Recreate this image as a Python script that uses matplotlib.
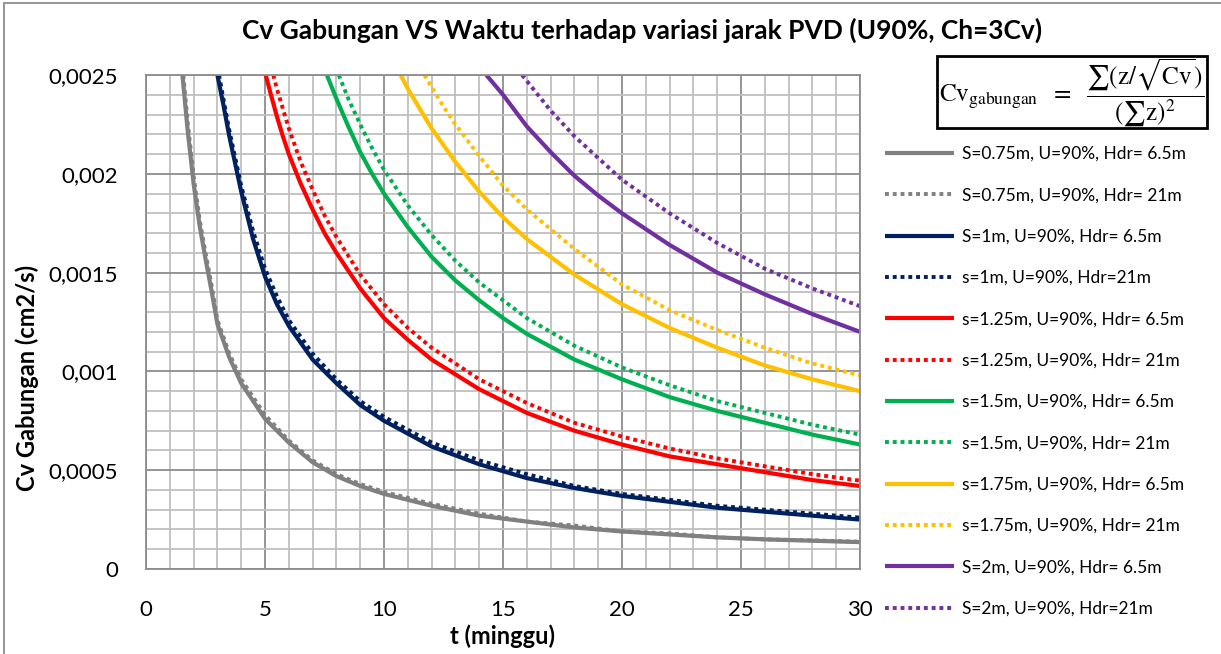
import matplotlib
matplotlib.use("Agg")
import matplotlib.pyplot as plt
from matplotlib.ticker import MultipleLocator, FuncFormatter
from matplotlib.patches import Rectangle

plt.rcParams['font.family'] = ['Lato', 'DejaVu Sans']
plt.rcParams['mathtext.fontset'] = 'stix'

# --- data (t in minggu, Cv in cm2/s) ---
t_075_65 = [1.53, 1.75, 2, 2.25, 2.5, 2.75, 3, 3.5, 4, 4.5, 5, 6, 7, 8, 9, 10, 12, 14, 16, 18, 20, 22, 24, 26, 28, 30]
cv_075_65 = [0.0025, 0.00222, 0.00195, 0.00174, 0.00157, 0.00141, 0.00124, 0.00107, 0.00094, 0.00085, 0.00076, 0.00064,
             0.00054, 0.00047, 0.00042, 0.00038, 0.00032, 0.00027, 0.00024, 0.00021, 0.00019, 0.000175, 0.00016,
             0.00015, 0.000143, 0.000136]
t_075_21 = [1.57, 1.75, 2, 2.25, 2.5, 2.75, 3, 3.5, 4, 4.5, 5, 6, 7, 8, 9, 10, 12, 14, 16, 18, 20, 22, 24, 26, 28, 30]
cv_075_21 = [0.0025, 0.00226, 0.00199, 0.00177, 0.0016, 0.00144, 0.00126, 0.00109, 0.00096, 0.00087, 0.00078, 0.00065,
             0.00055, 0.00048, 0.00043, 0.00039, 0.00033, 0.00028, 0.00024, 0.00022, 0.00019, 0.00018, 0.00016,
             0.00015, 0.000145, 0.000138]

t_1_65 = [3.0, 3.25, 3.5, 3.75, 4, 4.5, 5, 5.5, 6, 7, 8, 9, 10, 12, 14, 16, 18, 20, 22, 24, 26, 28, 30]
cv_1_65 = [0.0025, 0.00235, 0.00219, 0.00205, 0.00191, 0.00167, 0.00148, 0.00134, 0.00123, 0.00106, 0.00094, 0.00083,
           0.00075, 0.00062, 0.00053, 0.00046, 0.00041, 0.00037, 0.00034, 0.00031, 0.00029, 0.00027, 0.00025]
t_1_21 = [3.07, 3.25, 3.5, 3.75, 4, 4.5, 5, 5.5, 6, 7, 8, 9, 10, 12, 14, 16, 18, 20, 22, 24, 26, 28, 30]
cv_1_21 = [0.0025, 0.00238, 0.00222, 0.00208, 0.00194, 0.00171, 0.00152, 0.00138, 0.00126, 0.00109, 0.00096, 0.00085,
           0.00077, 0.00064, 0.00055, 0.00048, 0.00042, 0.00038, 0.00035, 0.00032, 0.0003, 0.00028, 0.00026]

t_125_65 = [5.03, 5.25, 5.5, 5.75, 6, 6.5, 7, 7.5, 8, 9, 10, 11, 12, 14, 16, 18, 20, 22, 24, 26, 28, 30]
cv_125_65 = [0.0025, 0.0024, 0.00229, 0.00219, 0.0021, 0.00195, 0.00182, 0.0017, 0.0016, 0.00142, 0.00127, 0.00116,
             0.00106, 0.00091, 0.00079, 0.0007, 0.00063, 0.00057, 0.00053, 0.00049, 0.00045, 0.00042]
t_125_21 = [5.35, 5.5, 5.75, 6, 6.5, 7, 7.5, 8, 9, 10, 11, 12, 14, 16, 18, 20, 22, 24, 26, 28, 30]
cv_125_21 = [0.0025, 0.00243, 0.00233, 0.00223, 0.00206, 0.00192, 0.00179, 0.00168, 0.00149, 0.00134, 0.00122,
             0.00112, 0.00096, 0.00084, 0.00074, 0.00067, 0.00061, 0.00056, 0.00052, 0.00048, 0.000447]

t_15_65 = [7.6, 8, 8.5, 9, 9.5, 10, 11, 12, 13, 14, 15, 16, 18, 20, 22, 24, 26, 28, 30]
cv_15_65 = [0.0025, 0.00238, 0.00224, 0.00211, 0.002, 0.0019, 0.00173, 0.00158, 0.00146, 0.00136, 0.00127, 0.00119,
            0.00106, 0.00096, 0.00087, 0.0008, 0.00074, 0.00068, 0.00063]
t_15_21 = [8.1, 8.5, 9, 9.5, 10, 11, 12, 13, 14, 15, 16, 18, 20, 22, 24, 26, 28, 30]
cv_15_21 = [0.0025, 0.00238, 0.00225, 0.00213, 0.00202, 0.00184, 0.00169, 0.00156, 0.00145, 0.00136, 0.00127,
            0.00113, 0.00102, 0.00093, 0.00085, 0.00079, 0.00073, 0.00068]

t_175_65 = [10.7, 11, 11.5, 12, 13, 14, 15, 16, 18, 20, 22, 24, 26, 28, 30]
cv_175_65 = [0.0025, 0.00243, 0.00233, 0.00223, 0.00206, 0.00191, 0.00178, 0.00167, 0.00149, 0.00134, 0.00122,
             0.00112, 0.00103, 0.00096, 0.0009]
t_175_21 = [11.7, 12, 12.5, 13, 14, 15, 16, 18, 20, 22, 24, 26, 28, 30]
cv_175_21 = [0.0025, 0.00244, 0.00234, 0.00225, 0.00209, 0.00194, 0.00182, 0.00162, 0.00144, 0.00131, 0.00121,
             0.00112, 0.00104, 0.00098]

t_2_65 = [14.3, 15, 16, 17, 18, 19, 20, 22, 24, 26, 28, 30]
cv_2_65 = [0.0025, 0.0024, 0.00224, 0.00211, 0.00199, 0.00189, 0.0018, 0.00164, 0.0015, 0.00139, 0.00129, 0.0012]
t_2_21 = [15.8, 16, 17, 18, 19, 20, 22, 24, 26, 28, 30]
cv_2_21 = [0.0025, 0.00247, 0.00232, 0.00219, 0.00208, 0.00197, 0.0018, 0.00165, 0.00152, 0.00142, 0.00133]

labels = ["S=0.75m, U=90%, Hdr= 6.5m", "S=0.75m, U=90%, Hdr= 21m",
          "S=1m, U=90%, Hdr= 6.5m", "s=1m, U=90%, Hdr=21m",
          "s=1.25m, U=90%, Hdr= 6.5m", "s=1.25m, U=90%, Hdr= 21m",
          "s=1.5m, U=90%, Hdr= 6.5m", "s=1.5m, U=90%, Hdr= 21m",
          "s=1.75m, U=90%, Hdr= 6.5m", "s=1.75m, U=90%, Hdr= 21m",
          "S=2m, U=90%, Hdr= 6.5m", "S=2m, U=90%, Hdr=21m"]
colors = ['#808080', '#002060', '#FF0000', '#00B050', '#FFC000', '#7030A0']

series = [(t_075_65, cv_075_65), (t_075_21, cv_075_21),
          (t_1_65, cv_1_65), (t_1_21, cv_1_21),
          (t_125_65, cv_125_65), (t_125_21, cv_125_21),
          (t_15_65, cv_15_65), (t_15_21, cv_15_21),
          (t_175_65, cv_175_65), (t_175_21, cv_175_21),
          (t_2_65, cv_2_65), (t_2_21, cv_2_21)]

fig = plt.figure(figsize=(12.21, 6.54), dpi=100)
ax = fig.add_axes([146 / 1221, 1 - 569 / 654, 714 / 1221, 494 / 654])

for i, (t, cv) in enumerate(series):
    c = colors[i // 2]
    if i % 2 == 0:
        ax.plot(t, cv, color=c, lw=3.0, label=labels[i], solid_capstyle='butt', solid_joinstyle='round')
    else:
        ax.plot(t, cv, color=c, lw=2.8, ls=(0, (1, 1)), label=labels[i], dash_capstyle='butt')

ax.set_xlim(0, 30)
ax.set_ylim(0, 0.0025)
ax.xaxis.set_major_locator(MultipleLocator(5))
ax.xaxis.set_minor_locator(MultipleLocator(1))
ax.yaxis.set_major_locator(MultipleLocator(0.0005))
ax.yaxis.set_minor_locator(MultipleLocator(0.0001))
ax.yaxis.set_major_formatter(FuncFormatter(lambda v, p: ('%g' % round(v, 6)).replace('.', ',') if v != 0 else '0'))
ax.grid(True, which='major', color='#8C8C8C', lw=1.3)
ax.grid(True, which='minor', color='#BFBFBF', lw=1.3)
ax.set_axisbelow(True)
for s in ax.spines.values():
    s.set_color('#8C8C8C')
    s.set_linewidth(1.3)
ax.tick_params(which='both', length=0)
ax.tick_params(axis='x', labelsize=16, pad=22, colors='black')
ax.tick_params(axis='y', labelsize=16, pad=20, colors='black')

ax.set_xlabel('t (minggu)', fontsize=17, fontweight='bold', va='center')
ax.xaxis.set_label_coords(503 / 714 - 146 / 714 + 0.0, (569 - 636) / 494)
ax.set_ylabel('Cv Gabungan (cm2/s)', fontsize=17, fontweight='bold', va='center')
ax.yaxis.set_label_coords((27 - 146) / 714, (569 - 378) / 494)
fig.text(642 / 1221, 1 - 30 / 654, 'Cv Gabungan VS Waktu terhadap variasi jarak PVD (U90%, Ch=3Cv)',
         ha='center', va='center', fontsize=19, fontweight='bold')

fig.legend(loc='upper left', bbox_to_anchor=(878 / 1221, 1 - 139 / 654), frameon=False,
           fontsize=12.5, handlelength=4.0, labelspacing=1.46, handletextpad=0.45, borderaxespad=0)

# formula box
fig.patches.append(Rectangle((937 / 1221, 1 - 128 / 654), 270 / 1221, 72 / 654, transform=fig.transFigure,
                             fill=False, edgecolor='black', lw=2))
fig.text(1072 / 1221, 1 - 92 / 654,
         r'$\mathrm{Cv}_{\mathrm{gabungan}}\ \ =\ \ \dfrac{\sum(\mathrm{z}/\sqrt{\mathrm{Cv}})}{(\sum\mathrm{z})^2}$',
         ha='center', va='center', fontsize=18)

# chart area border
fig.patches.append(Rectangle((4 / 1221, -0.01), 1.2, 1 - 3 / 654 + 0.01, transform=fig.transFigure,
                             fill=False, edgecolor='#8C8C8C', lw=1.3))

fig.savefig('out.png', dpi=100)
